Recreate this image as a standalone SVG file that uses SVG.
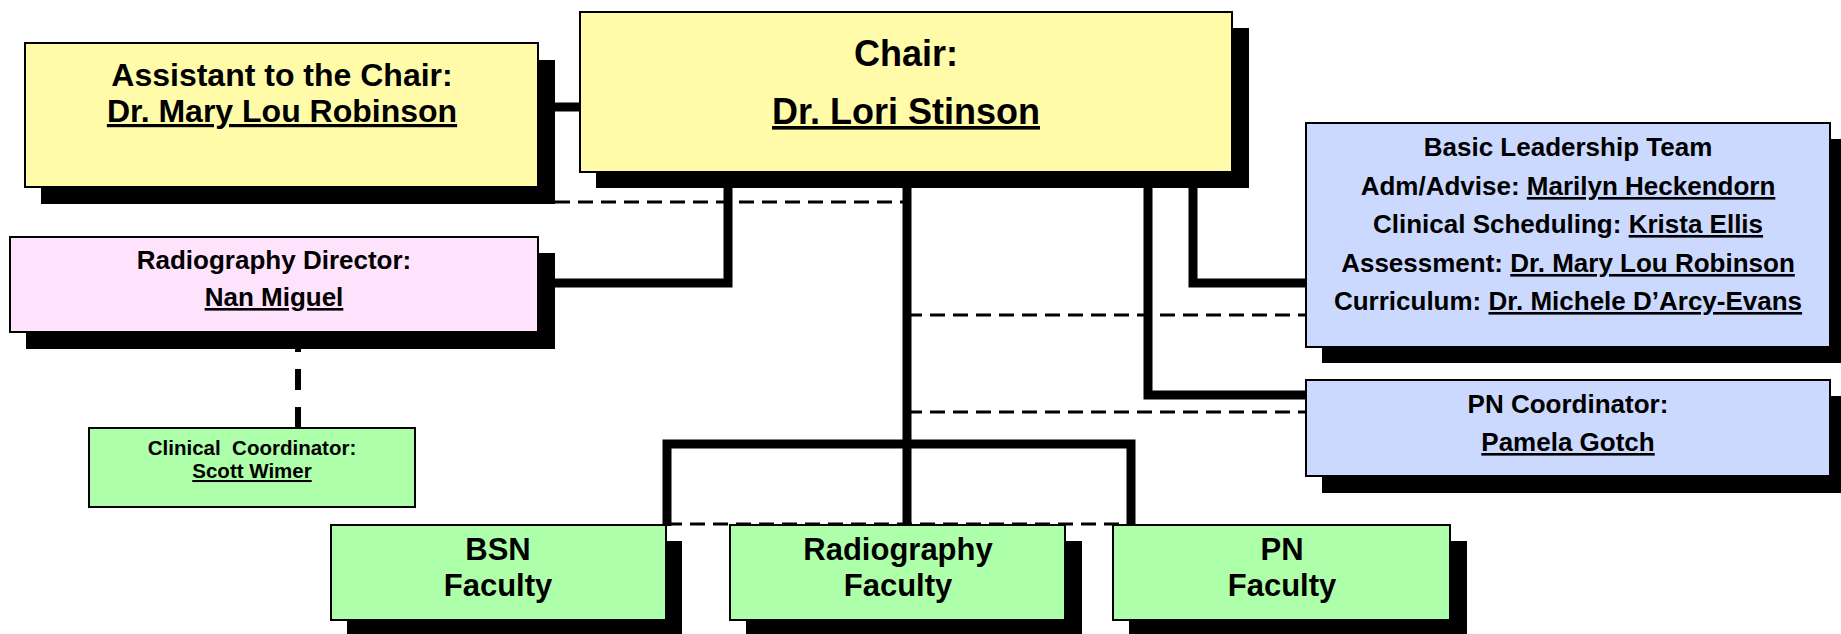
<svg xmlns="http://www.w3.org/2000/svg" width="1841" height="634" viewBox="0 0 1841 634">
<style>
.box{stroke:#000;stroke-width:2}
.sh{fill:#000}
.y{fill:#FFFBA8}
.p{fill:#FFE3FD}
.b{fill:#CCD9FE}
.g{fill:#AEFFAA}
.t{font-family:"Liberation Sans",Arial,sans-serif;font-weight:bold;fill:#000;text-anchor:middle}
.u{text-decoration:underline}
.c{fill:none;stroke:#000;stroke-width:9;stroke-linecap:butt;stroke-linejoin:miter}
.d{fill:none;stroke:#000;stroke-width:3;stroke-dasharray:15 8}
</style>
<g id="connectors">
<path class="c" d="M555 107H585"/>
<path class="c" d="M728 185V283H550"/>
<path class="c" d="M907 185V526"/>
<path class="c" d="M1193 185V283H1310"/>
<path class="c" d="M1148 185V395H1310"/>
<path class="c" d="M667 526V444H1131V526"/>
<path class="d" d="M555 202H907"/>
<path class="d" d="M907 315H1306"/>
<path class="d" d="M907 412H1306"/>
<path class="d" d="M667 524H1131"/>
<path d="M298 428V349" fill="none" stroke="#000" stroke-width="6" stroke-dasharray="21 17"/>
</g>
<g id="assistant">
<rect class="sh" x="41" y="60" width="514" height="144"/>
<rect class="box y" x="25" y="43" width="513" height="144"/>
<text class="t" font-size="32" x="282" y="86">Assistant to the Chair:</text>
<text class="t u" font-size="32" x="282" y="122">Dr. Mary Lou Robinson</text>
</g>
<g id="chair">
<rect class="sh" x="596" y="28" width="653" height="160"/>
<rect class="box y" x="580" y="12" width="652" height="160"/>
<text class="t" font-size="36" x="906" y="66">Chair:</text>
<text class="t u" font-size="36" x="906" y="124">Dr. Lori Stinson</text>
</g>
<g id="radiography-director">
<rect class="sh" x="26" y="253" width="529" height="96"/>
<rect class="box p" x="10" y="237" width="528" height="95"/>
<text class="t" font-size="26" x="274" y="269">Radiography Director:</text>
<text class="t u" font-size="26" x="274" y="306">Nan Miguel</text>
</g>
<g id="clinical-coordinator">
<rect class="box g" x="89" y="428" width="326" height="79"/>
<text class="t" font-size="20.5" x="252" y="455" xml:space="preserve">Clinical  Coordinator:</text>
<text class="t u" font-size="20.5" x="252" y="478">Scott Wimer</text>
</g>
<g id="basic-leadership-team">
<rect class="sh" x="1322" y="139" width="519" height="224"/>
<rect class="box b" x="1306" y="123" width="524" height="224"/>
<text class="t" font-size="26" x="1568" y="156">Basic Leadership Team</text>
<text class="t" font-size="26" x="1568" y="195">Adm/Advise: <tspan class="u">Marilyn Heckendorn</tspan></text>
<text class="t" font-size="26" x="1568" y="233">Clinical Scheduling: <tspan class="u">Krista Ellis</tspan></text>
<text class="t" font-size="26" x="1568" y="272">Assessment: <tspan class="u">Dr. Mary Lou Robinson</tspan></text>
<text class="t" font-size="26" x="1568" y="310">Curriculum: <tspan class="u">Dr. Michele D’Arcy-Evans</tspan></text>
</g>
<g id="pn-coordinator">
<rect class="sh" x="1322" y="396" width="519" height="97"/>
<rect class="box b" x="1306" y="380" width="524" height="96"/>
<text class="t" font-size="26" x="1568" y="413">PN Coordinator:</text>
<text class="t u" font-size="26" x="1568" y="451">Pamela Gotch</text>
</g>
<g id="bsn-faculty">
<rect class="sh" x="347" y="541" width="335" height="100"/>
<rect class="box g" x="331" y="525" width="335" height="95"/>
<text class="t" font-size="31" x="498" y="560">BSN</text>
<text class="t" font-size="31" x="498" y="596">Faculty</text>
</g>
<g id="radiography-faculty">
<rect class="sh" x="746" y="541" width="336" height="100"/>
<rect class="box g" x="730" y="525" width="335" height="95"/>
<text class="t" font-size="31" x="898" y="560">Radiography</text>
<text class="t" font-size="31" x="898" y="596">Faculty</text>
</g>
<g id="pn-faculty">
<rect class="sh" x="1129" y="541" width="338" height="100"/>
<rect class="box g" x="1113" y="525" width="337" height="95"/>
<text class="t" font-size="31" x="1282" y="560">PN</text>
<text class="t" font-size="31" x="1282" y="596">Faculty</text>
</g>
</svg>
